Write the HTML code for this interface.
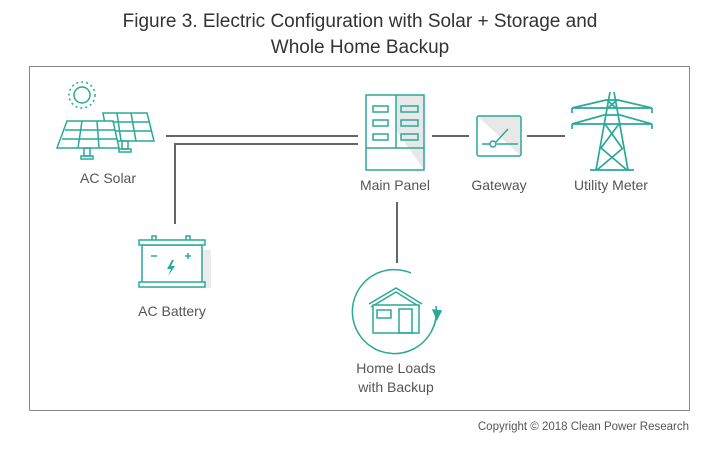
<!DOCTYPE html>
<html><head><style>
body{margin:0;background:#fff;width:720px;height:456px;overflow:hidden;font-family:"Liberation Sans",sans-serif}
</style></head><body>
<svg width="720" height="456" xmlns="http://www.w3.org/2000/svg" font-family="Liberation Sans, sans-serif">
<text x="360" y="27" font-size="19" fill="#333" text-anchor="middle">Figure 3. Electric Configuration with Solar + Storage and</text>
<text x="360" y="53" font-size="19" fill="#333" text-anchor="middle">Whole Home Backup</text>
<rect x="29.5" y="66.5" width="660" height="344" fill="none" stroke="#888" stroke-width="1"/>
<text x="689" y="430" font-size="11.5" fill="#555" text-anchor="end">Copyright © 2018 Clean Power Research</text>
<g stroke="#666" stroke-width="2" fill="none">
<line x1="166" y1="136" x2="358" y2="136"/>
<polyline points="175,224 175,144 358,144"/>
<line x1="432" y1="136" x2="469" y2="136"/>
<line x1="527" y1="136" x2="565" y2="136"/>
<line x1="397" y1="202" x2="397" y2="263"/>
</g>
<g stroke="#2aa899" stroke-width="1.5" fill="none">
<circle cx="82" cy="95" r="8"/>
<g stroke-dasharray="2 3"><circle cx="82" cy="95" r="13"/></g>
<polygon points="103,113 147,113 154,141 108,141" fill="#fff"/>
<line x1="105" y1="122" x2="149" y2="122"/><line x1="107" y1="131" x2="152" y2="131"/>
<line x1="117" y1="113" x2="121" y2="141"/><line x1="131" y1="113" x2="136" y2="141"/>
<rect x="122" y="141" width="6" height="8"/><rect x="119" y="149" width="12" height="3"/>
<polygon points="67,121 113,121 119,148 57,148" fill="#fff"/>
<line x1="65" y1="130" x2="115" y2="130"/><line x1="62" y1="139" x2="117" y2="139"/>
<line x1="82" y1="121" x2="78" y2="148"/><line x1="97" y1="121" x2="99" y2="148"/>
<rect x="84" y="148" width="6" height="8"/><rect x="81" y="156" width="12" height="3"/>
</g>
<text x="108" y="183" font-size="14" fill="#555" text-anchor="middle">AC Solar</text>
<polygon points="396,95 424,95 424,170 396,130" fill="#e8e8e8"/>
<g stroke="#2aa899" stroke-width="1.5" fill="none">
<rect x="366" y="95" width="58" height="75"/>
<line x1="396" y1="95" x2="396" y2="148"/><line x1="366" y1="148" x2="424" y2="148"/>
<rect x="373" y="106" width="15" height="6"/><rect x="373" y="120" width="15" height="6"/><rect x="373" y="134" width="15" height="6"/>
<rect x="401" y="106" width="17" height="6"/><rect x="401" y="120" width="17" height="6"/><rect x="401" y="134" width="17" height="6"/>
</g>
<text x="395" y="190" font-size="14" fill="#555" text-anchor="middle">Main Panel</text>
<polygon points="477,116 521,116 521,156" fill="#e8e8e8"/>
<g stroke="#2aa899" stroke-width="1.5" fill="none">
<rect x="477" y="116" width="44" height="40" rx="2"/>
<line x1="482" y1="144" x2="490" y2="144"/><circle cx="493" cy="144" r="3" fill="#fff"/>
<line x1="496" y1="142" x2="508" y2="129"/><line x1="497" y1="144" x2="518" y2="144"/>
</g>
<text x="499" y="190" font-size="14" fill="#555" text-anchor="middle">Gateway</text>
<g stroke="#2aa899" stroke-width="1.7" fill="none">
<line x1="610" y1="92" x2="596" y2="170"/><line x1="614" y1="92" x2="628" y2="170"/>
<line x1="572" y1="108" x2="652" y2="108"/><line x1="572" y1="124" x2="652" y2="124"/>
<polyline points="572,108 606,100 618,100 652,108"/>
<polyline points="572,124 604,115 620,115 652,124"/>
<line x1="572" y1="108" x2="572" y2="113"/><line x1="652" y1="108" x2="652" y2="113"/>
<line x1="572" y1="124" x2="572" y2="129"/><line x1="652" y1="124" x2="652" y2="129"/>
<line x1="607" y1="100" x2="616" y2="108"/><line x1="617" y1="100" x2="608" y2="108"/>
<line x1="605" y1="124" x2="622" y2="148"/><line x1="619" y1="124" x2="601" y2="148"/>
<line x1="601" y1="148" x2="627" y2="170"/><line x1="623" y1="148" x2="597" y2="170"/>
<line x1="590" y1="170" x2="634" y2="170"/>
</g>
<text x="611" y="190" font-size="14" fill="#555" text-anchor="middle">Utility Meter</text>
<rect x="147" y="250" width="64" height="38" fill="#ececec"/>
<g stroke="#2aa899" stroke-width="1.5" fill="#fff">
<rect x="142" y="245" width="60" height="40"/>
<rect x="139" y="240" width="66" height="5"/><rect x="139" y="282" width="66" height="5"/>
<path d="M152,240 v-4 h4 v4 M186,240 v-4 h4 v4" fill="none"/>
<line x1="151" y1="256" x2="157" y2="256"/><line x1="185" y1="256" x2="191" y2="256"/><line x1="188" y1="253" x2="188" y2="259"/>
</g>
<path d="M172,260 l-5,9 h4 l-3,7 l7,-10 h-4 l3,-6z" fill="#2aa899"/>
<text x="172" y="316" font-size="14" fill="#555" text-anchor="middle">AC Battery</text>
<g stroke="#2aa899" stroke-width="1.5" fill="none">
<path d="M436,306 A42,42 0 1 1 411,273"/>
<path d="M437,313 A42,42 0 0 1 432,330"/>
<polygon points="433,310 437,319 441,311" fill="#2aa899"/>
<polyline points="369,304 396,288 422,304"/>
<polyline points="371,307 396,292 420,307"/>
<rect x="373" y="305" width="46" height="28" fill="#fff"/>
<rect x="377" y="310" width="14" height="8"/>
<rect x="399" y="309" width="13" height="24"/>
</g>
<text x="396" y="373" font-size="14" fill="#555" text-anchor="middle">Home Loads</text>
<text x="396" y="392" font-size="14" fill="#555" text-anchor="middle">with Backup</text>
</svg>
</body></html>
